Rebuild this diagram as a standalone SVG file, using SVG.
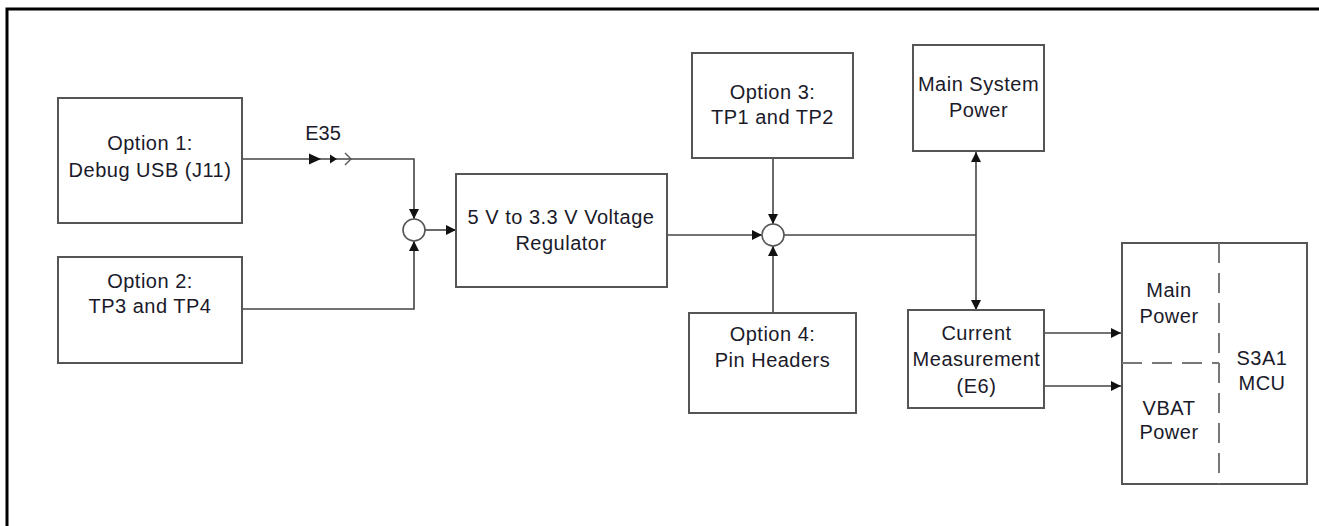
<svg xmlns="http://www.w3.org/2000/svg" width="1319" height="526" viewBox="0 0 1319 526">
<style>
.box{fill:#fff;stroke:#555;stroke-width:2}
.ln{fill:none;stroke:#444;stroke-width:1.6}
.dash{fill:none;stroke:#777;stroke-width:2;stroke-dasharray:20 10}
text{font-family:"Liberation Sans",Arial,sans-serif;font-size:20px;fill:#1a1a2a;text-anchor:middle;letter-spacing:0.5px}
</style>
<defs>
<marker id="ah" viewBox="0 0 10 10" refX="10" refY="5" markerWidth="11" markerHeight="10" markerUnits="userSpaceOnUse" orient="auto">
<path d="M0,0 L10,5 L0,10 z" fill="#111"/>
</marker>
</defs>
<rect width="1319" height="526" fill="#fff"/>
<path d="M7,526 V9 H1319" fill="none" stroke="#000" stroke-width="3"/>

<g id="connectors">
<path class="ln" d="M242,159 H414 V219" marker-end="url(#ah)"/>
<path d="M309,153.5 L321,159 L309,164.5 z" fill="#111"/>
<path d="M330,154.5 L337,159 L330,163.5 z" fill="#111"/>
<path d="M345,153 L351,159 L345,165" fill="none" stroke="#555" stroke-width="1.4"/>
<path class="ln" d="M242,309 H414 V241" marker-end="url(#ah)"/>
<path class="ln" d="M425,230 H456" marker-end="url(#ah)"/>
<path class="ln" d="M667,235 H762" marker-end="url(#ah)"/>
<path class="ln" d="M773,158 V224" marker-end="url(#ah)"/>
<path class="ln" d="M773,313 V246" marker-end="url(#ah)"/>
<path class="ln" d="M784,235 H976"/>
<path class="ln" d="M976,235 V152" marker-end="url(#ah)"/>
<path class="ln" d="M976,235 V310" marker-end="url(#ah)"/>
<path class="ln" d="M1044,333 H1121" marker-end="url(#ah)"/>
<path class="ln" d="M1044,386 H1121" marker-end="url(#ah)"/>
<text x="323" y="140" style="letter-spacing:0">E35</text>
</g>

<g id="junction1"><circle cx="414" cy="230" r="11" fill="#fff" stroke="#555" stroke-width="1.6"/></g>
<g id="junction2"><circle cx="773" cy="235" r="11" fill="#fff" stroke="#555" stroke-width="1.6"/></g>

<g id="option1">
<rect class="box" x="58" y="98" width="184" height="125"/>
<text x="150" y="150">Option 1:</text>
<text x="150" y="177">Debug USB (J11)</text>
</g>
<g id="option2">
<rect class="box" x="58" y="257" width="184" height="106"/>
<text x="150" y="288">Option 2:</text>
<text x="150" y="313">TP3 and TP4</text>
</g>
<g id="regulator">
<rect class="box" x="456" y="174" width="211" height="113"/>
<text x="561" y="224">5 V to 3.3 V Voltage</text>
<text x="561" y="250">Regulator</text>
</g>
<g id="option3">
<rect class="box" x="692" y="53" width="161" height="105"/>
<text x="772.5" y="99">Option 3:</text>
<text x="772.5" y="124">TP1 and TP2</text>
</g>
<g id="option4">
<rect class="box" x="689" y="313" width="167" height="100"/>
<text x="772.5" y="341">Option 4:</text>
<text x="772.5" y="367">Pin Headers</text>
</g>
<g id="mainsystem">
<rect class="box" x="913" y="45" width="131" height="106"/>
<text x="978.5" y="91">Main System</text>
<text x="978.5" y="117">Power</text>
</g>
<g id="current">
<rect class="box" x="908" y="310" width="136" height="98"/>
<text x="976.5" y="340">Current</text>
<text x="976.5" y="366">Measurement</text>
<text x="976.5" y="393">(E6)</text>
</g>
<g id="mcu">
<rect class="box" x="1122" y="243" width="185" height="241"/>
<path class="dash" d="M1219,243 V484"/>
<path class="dash" d="M1122,363 H1219"/>
<text x="1169" y="297">Main</text>
<text x="1169" y="323">Power</text>
<text x="1169" y="415">VBAT</text>
<text x="1169" y="439">Power</text>
<text x="1262" y="365">S3A1</text>
<text x="1262" y="390">MCU</text>
</g>
</svg>
